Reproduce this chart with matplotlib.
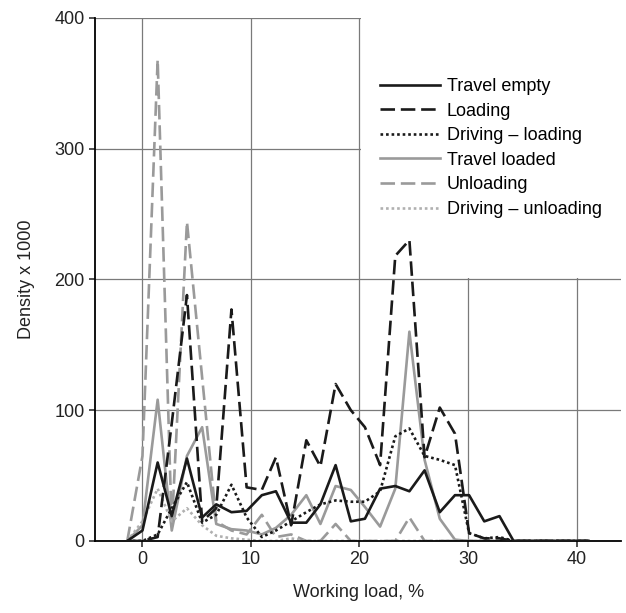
import matplotlib
matplotlib.use('Agg')
import matplotlib.pyplot as plt
from matplotlib.patches import Rectangle

plt.rcParams['font.family'] = ['Liberation Sans', 'DejaVu Sans']

# working load bins (%)
load = [-1.4, 0.0, 1.4, 2.7, 4.1, 5.5, 6.8, 8.2, 9.6, 11.0, 12.3, 13.7, 15.1, 16.4, 17.8, 19.2,
        20.5, 21.9, 23.3, 24.6, 26.0, 27.4, 28.8, 30.1, 31.5, 32.9, 34.2, 35.6, 37.0, 38.3, 39.7, 41.1]

travel_empty = [0, 8, 60, 19, 63, 18, 28, 22, 23, 35, 38, 14, 14, 28, 58, 15,
                17, 40, 42, 38, 54, 22, 35, 35, 15, 19, 0, 0, 0, 0, 0, 0]
loading = [0, 0, 3, 90, 188, 15, 25, 177, 41, 39, 64, 12, 77, 57, 120, 100,
           87, 58, 218, 230, 64, 102, 82, 6, 2, 2, 0, 0, 0, 0, 0, 0]
driving_loading = [0, 0, 5, 25, 45, 14, 20, 43, 18, 3, 8, 15, 22, 28, 31, 30,
                   30, 38, 80, 86, 65, 62, 58, 6, 2, 3, 0, 0, 0, 0, 0, 0]
travel_loaded = [0, 12, 108, 8, 65, 87, 13, 9, 8, 5, 10, 20, 35, 13, 42, 39,
                 26, 11, 40, 160, 62, 17, 1, 0, 0, 0, 0, 0, 0, 0, 0, 0]
unloading = [0, 65, 368, 10, 244, 125, 15, 8, 5, 20, 3, 5, 0, 0, 13, 0,
             0, 0, 0, 18, 0, 0, 0, 0, 0, 0, 0, 0, 0, 0, 0, 0]
driving_unloading = [0, 15, 40, 15, 25, 12, 4, 2, 1, 0, 0, 2, 0, 0, 0, 0,
                     0, 0, 0, 0, 0, 0, 0, 0, 0, 0, 0, 0, 0, 0, 0, 0]

black = '#1a1a1a'
grey = '#9a9a9a'
grey_dot = '#b0b0b0'

fig = plt.figure(figsize=(6.26, 6.13), dpi=100)
ax = fig.add_axes([0.152, 0.1175, 0.84, 0.8535])

lw = 1.9
ax.plot(load, travel_empty, color=black, lw=lw, label='Travel empty', zorder=3)
ax.plot(load, loading, color=black, lw=lw, dashes=(5.5, 2.2), label='Loading', zorder=3)
ax.plot(load, driving_loading, color=black, lw=lw, dashes=(1, 1.1), label='Driving \u2013 loading', zorder=3)
ax.plot(load, travel_loaded, color=grey, lw=lw, label='Travel loaded', zorder=2)
ax.plot(load, unloading, color=grey, lw=lw, dashes=(5.5, 2.2), label='Unloading', zorder=2)
ax.plot(load, driving_unloading, color=grey_dot, lw=lw, dashes=(1, 1.1), label='Driving \u2013 unloading', zorder=2)

ax.set_xlim(-4.36, 44.1)
ax.set_ylim(0, 400)
ax.set_xticks([0, 10, 20, 30, 40])
ax.set_yticks([0, 100, 200, 300, 400])
ax.set_axisbelow(True)
ax.grid(True, color='#7a7a7a', lw=0.9, zorder=0.2)

# white area behind the legend hides the grid
ax.add_patch(Rectangle((20.12, 201.0), 30, 210, facecolor='white', edgecolor='none', zorder=1))

for s in ['top', 'right']:
    ax.spines[s].set_visible(False)
ax.spines['left'].set_linewidth(1.3)
ax.spines['bottom'].set_linewidth(1.3)
ax.tick_params(direction='out', length=4, width=1.1, labelsize=13, colors='#222222')

ax.set_xlabel('Working load, %', fontsize=13, color='#222222', labelpad=11)
ax.set_ylabel('Density x 1000', fontsize=13, color='#222222', labelpad=14)

ax.legend(loc='upper left', bbox_to_anchor=(380 / 626, 1 - 78 / 613), bbox_transform=fig.transFigure,
          frameon=False, fontsize=13, handlelength=3.3, handletextpad=0.4,
          labelspacing=0.42, borderpad=0, borderaxespad=0)

fig.savefig('out.png', dpi=100)
